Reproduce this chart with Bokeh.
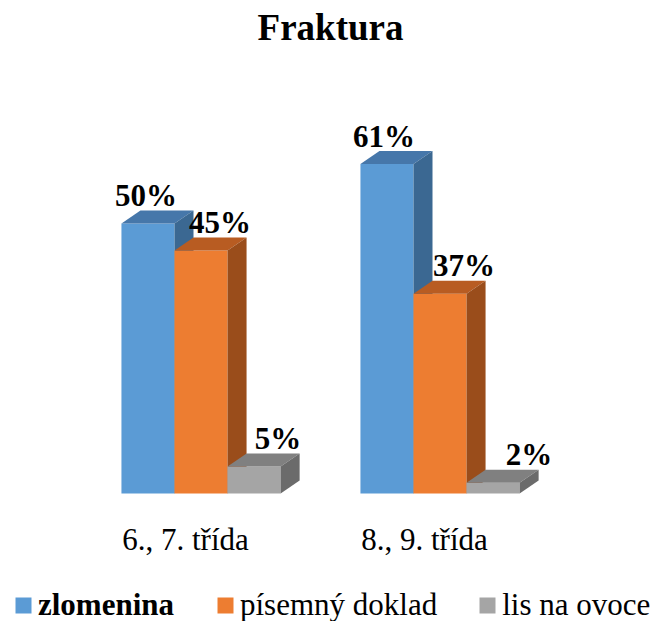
from bokeh.plotting import figure
from bokeh.models import Range1d, Legend, LegendItem, ColumnDataSource
from bokeh.core.properties import value
from bokeh.embed import file_html
from bokeh.resources import INLINE

# ---- data ----
categories = ["6., 7. třída", "8., 9. třída"]
series = ["zlomenina", "písemný doklad", "lis na ovoce"]
zlomenina = [50, 61]
pisemny_doklad = [45, 37]
lis_na_ovoce = [5, 2]
values = [zlomenina, pisemny_doklad, lis_na_ovoce]

# ---- style ----
FONT = "Liberation Serif"
front_colors = ["#5B9BD5", "#ED7D31", "#A5A5A5"]
top_colors = ["#4677AA", "#B85C22", "#808080"]
side_colors = ["#3B6892", "#9A4D1B", "#6B6B6B"]
label_dx = [[-2, -3], [19, 24], [24, 36]]   # px, per series / category
BAR_W = 0.222
GROUP_START = -0.268          # offset from category centre
PX_X = 239.0                  # px per category unit
PX_Y = 5.4                    # px per percent
DX = 19 / PX_X
DY = 13 / PX_Y
X0_PX, Y0_PX = 185, 493       # pixel of first category centre / zero line

W, H = 660, 621
TOP = 48


def xd(px):
    return 0.5 + (px - X0_PX) / PX_X


def yd(py):
    return (Y0_PX - py) / PX_Y


p = figure(width=W, height=H, output_backend="svg", toolbar_location=None,
           x_range=Range1d(xd(0), xd(W)), y_range=Range1d(yd(H), yd(TOP)),
           x_axis_location=None, y_axis_location=None,
           min_border_left=0, min_border_right=0,
           min_border_top=TOP, min_border_bottom=0)
p.outline_line_color = None
p.xgrid.visible = False
p.ygrid.visible = False

p.title.text = "Fraktura"
p.title.text_font = FONT
p.title.text_font_size = "37px"
p.title.text_font_style = "bold"
p.title.align = "center"
p.title.text_color = "black"
p.title.standoff = 2

centers = [i + 0.5 for i in range(len(categories))]
front_renderers = []
for s, vals in enumerate(values):
    lefts = [c + GROUP_START + s * BAR_W for c in centers]
    rights = [l + BAR_W for l in lefts]
    r = p.quad(left=lefts, right=rights, bottom=0, top=vals,
               fill_color=front_colors[s], line_color=None)
    front_renderers.append(r)
    tops_x = [[l, rr, rr + DX, l + DX] for l, rr in zip(lefts, rights)]
    tops_y = [[v, v, v + DY, v + DY] for v in vals]
    p.patches(tops_x, tops_y, fill_color=top_colors[s], line_color=None)
    side_x = [[rr, rr, rr + DX, rr + DX] for rr in rights]
    side_y = [[0, v, v + DY, DY] for v in vals]
    p.patches(side_x, side_y, fill_color=side_colors[s], line_color=None)
    src = ColumnDataSource(dict(x=[(l + rr) / 2 for l, rr in zip(lefts, rights)],
                                y=[v + DY for v in vals],
                                t=[f"{v}%" for v in vals],
                                dx=label_dx[s]))
    p.text(x="x", y="y", text="t", source=src, text_font=value(FONT),
           text_font_size="31px", text_font_style="bold", text_color="black",
           text_align="center", text_baseline="alphabetic",
           x_offset="dx", y_offset=-15)

# category labels (below the bars)
cat_src = ColumnDataSource(dict(x=centers, y=[0] * len(centers), t=categories))
p.text(x="x", y="y", text="t", source=cat_src, text_font=value(FONT),
       text_font_size="31px", text_color="black", text_align="center",
       text_baseline="alphabetic", y_offset=46)

common = dict(orientation="horizontal", padding=0, margin=0, spacing=40,
              glyph_width=20, glyph_height=20, label_standoff=5,
              label_text_font=FONT, label_text_font_size="31px",
              label_text_line_height=1.0,
              label_text_color="black", border_line_color=None,
              background_fill_alpha=0)
leg1 = Legend(items=[LegendItem(label=series[0], renderers=[front_renderers[0]])],
              location=(13, -2), label_text_font_style="bold", **common)
leg2 = Legend(items=[LegendItem(label=series[i], renderers=[front_renderers[i]]) for i in (1, 2)],
              location=(215, -2), **common)
p.add_layout(leg1, "center")
p.add_layout(leg2, "center")

open("out.html", "w").write(file_html(p, INLINE))
